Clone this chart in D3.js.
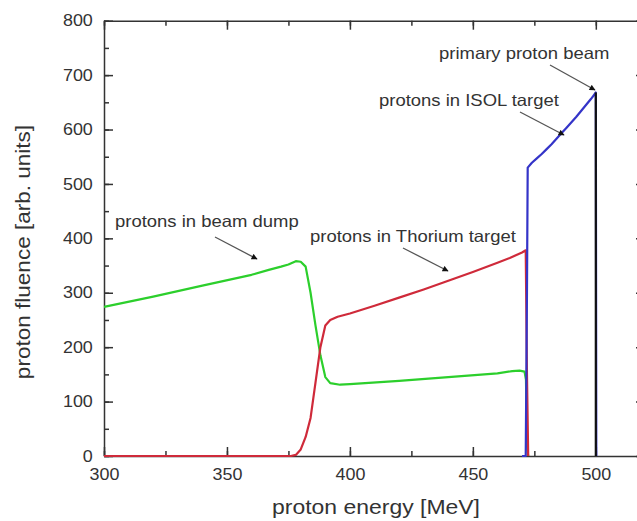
<!DOCTYPE html>
<html>
<head>
<meta charset="utf-8">
<script src="https://cdn.jsdelivr.net/npm/d3@7"></script>
<style>
  body { margin: 0; background: #fff; }
  svg text { font-family: "Liberation Sans", Arial, sans-serif; fill: #333; }
</style>
</head>
<body>
<svg id="chart" width="637" height="521"></svg>
<script>
// values
const dumpEnergy = [300, 320, 340, 360, 367, 372, 375, 378, 380, 382, 384, 386, 388, 390, 392, 396, 400, 420, 440, 460, 466, 469, 471, 471.6, 472, 472.5];
const dumpFluence = [274, 293, 313, 333, 342, 348, 352, 358, 357, 348, 300, 240, 185, 145, 134, 131, 132, 138, 145, 152, 156, 157, 155, 140, 20, 0];

const thoriumEnergy = [300, 376, 378, 380, 382, 384, 386, 388, 390, 392, 395, 400, 410, 420, 430, 440, 450, 460, 465, 470, 471.5, 472, 472.5];
const thoriumFluence = [0, 0, 2, 12, 35, 70, 135, 200, 240, 250, 256, 262, 276, 291, 306, 322, 338, 355, 364, 374, 378, 150, 0];

const isolEnergy = [470, 471.5, 472, 472.3, 474, 476, 478, 480, 482, 484, 486, 488, 490, 492, 494, 496, 498, 499, 500, 500.2];
const isolFluence = [0, 0, 300, 530, 539, 547, 555, 564, 573, 583, 593, 603, 613, 623, 634, 645, 656, 662, 668, 0];

const beamEnergy = [500, 500];
const beamFluence = [0, 668];

const xTicks = [300, 350, 400, 450, 500];
const yTicks = [0, 100, 200, 300, 400, 500, 600, 700, 800];

const notes = [
  {text: "protons in beam dump", x: 115, y: 227, from: [215, 237], to: [257, 259]},
  {text: "protons in Thorium target", x: 310, y: 242, from: [403, 248], to: [448, 271]},
  {text: "protons in ISOL target", x: 379, y: 106, from: [520, 112], to: [564, 135]},
  {text: "primary proton beam", x: 439, y: 58.5, from: [550, 65], to: [595, 90]}
];

const margin = {top: 20.7, left: 104},
    width = 541,
    height = 435.3;
const stretch = "scale(1.12,1)";

let svg = d3.select("#chart");

svg.append("defs").append("marker")
    .attr("id", "head")
    .attr("viewBox", "0 0 10 10")
    .attr("refX", 9)
    .attr("refY", 5)
    .attr("markerWidth", 8)
    .attr("markerHeight", 6)
    .attr("markerUnits", "userSpaceOnUse")
    .attr("orient", "auto")
    .append("path")
    .attr("d", "M0,0L10,5L0,10z")
    .style("fill", "#111");

let g = svg.append("g")
    .attr("transform", "translate(" + margin.left + "," + margin.top + ")");

let x = d3.scaleLinear().domain([300, 520]).range([0, width]);
let y = d3.scaleLinear().domain([0, 800]).range([height, 0]);

let xMinor = d3.range(300, 521, 25);
let yMinor = d3.range(0, 801, 50);

function styleAxis(sel) {
    sel.selectAll("path, line").style("stroke", "#333").style("stroke-width", 1.5);
    sel.selectAll("text")
        .style("font-size", "16px")
        .attr("transform", stretch);
}

// minor ticks first
g.append("g").attr("transform", "translate(0," + height + ")")
    .call(d3.axisBottom(x).tickValues(xMinor).tickSize(-5).tickFormat(""))
    .call(styleAxis).select(".domain").remove();
g.append("g")
    .call(d3.axisTop(x).tickValues(xMinor).tickSize(-5).tickFormat(""))
    .call(styleAxis).select(".domain").remove();
g.append("g")
    .call(d3.axisLeft(y).tickValues(yMinor).tickSize(-5).tickFormat(""))
    .call(styleAxis).select(".domain").remove();
g.append("g").attr("transform", "translate(" + width + ",0)")
    .call(d3.axisRight(y).tickValues(yMinor).tickSize(-5).tickFormat(""))
    .call(styleAxis).select(".domain").remove();

// major ticks
g.append("g").attr("transform", "translate(0," + height + ")")
    .call(d3.axisBottom(x).tickValues(xTicks).tickSizeInner(-9).tickSizeOuter(0).tickPadding(13))
    .call(styleAxis);
g.append("g")
    .call(d3.axisTop(x).tickValues(d3.range(300, 521, 50)).tickSizeInner(-9).tickSizeOuter(0).tickFormat(""))
    .call(styleAxis);
g.append("g")
    .call(d3.axisLeft(y).tickValues(yTicks).tickSizeInner(-9).tickSizeOuter(0).tickPadding(10))
    .call(styleAxis);
g.append("g").attr("transform", "translate(" + width + ",0)")
    .call(d3.axisRight(y).tickValues(yTicks).tickSizeInner(-9).tickSizeOuter(0).tickFormat(""))
    .call(styleAxis);

// curves
let line = d3.line()
    .x(function (d) { return x(d[0]); })
    .y(function (d) { return y(d[1]); });

let series = [
    {e: dumpEnergy, v: dumpFluence, color: "#2ccf2c"},
    {e: thoriumEnergy, v: thoriumFluence, color: "#cf2a3a"},
    {e: isolEnergy, v: isolFluence, color: "#3434c8"},
    {e: beamEnergy, v: beamFluence, color: "#111"}
];

g.selectAll(".curve")
    .data(series)
    .enter().append("path")
    .attr("class", "curve")
    .attr("d", function (s) { return line(d3.zip(s.e, s.v)); })
    .style("fill", "none")
    .style("stroke", function (s) { return s.color; })
    .style("stroke-width", 2.2)
    .style("stroke-linejoin", "round");

// annotations
let note = svg.selectAll(".note")
    .data(notes)
    .enter().append("g")
    .attr("class", "note");

note.append("text")
    .attr("transform", function (d) { return "translate(" + d.x + "," + d.y + ") " + stretch; })
    .style("font-size", "16.5px")
    .text(function (d) { return d.text; });

note.append("line")
    .attr("x1", function (d) { return d.from[0]; })
    .attr("y1", function (d) { return d.from[1]; })
    .attr("x2", function (d) { return d.to[0]; })
    .attr("y2", function (d) { return d.to[1]; })
    .style("stroke", "#555")
    .style("stroke-width", 1.3)
    .attr("marker-end", "url(#head)");

// axis titles
svg.append("text")
    .attr("transform", "translate(376,514) " + stretch)
    .attr("text-anchor", "middle")
    .style("font-size", "20.5px")
    .text("proton energy [MeV]");

svg.append("text")
    .attr("transform", "translate(30,252) rotate(-90) scale(1.1,1)")
    .attr("text-anchor", "middle")
    .style("font-size", "20.5px")
    .text("proton fluence [arb. units]");
</script>
</body>
</html>
